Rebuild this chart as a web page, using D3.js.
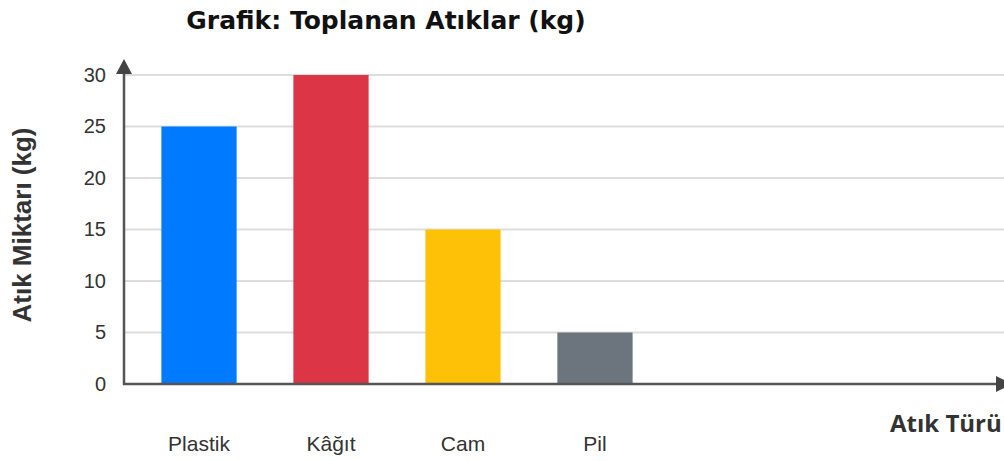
<!DOCTYPE html>
<html>
<head>
<meta charset="utf-8">
<script src="https://cdn.jsdelivr.net/npm/d3@7"></script>
<style>
  html, body { margin: 0; padding: 0; background: #fff; overflow: hidden; }
  svg { display: block; }
</style>
</head>
<body>
<svg id="chart" width="1004" height="461"></svg>
<script>
// ── Data ─────────────────────────────────────────────────────────────
const categories = ['Plastik', 'Kâğıt', 'Cam', 'Pil'];
const values = [25, 30, 15, 5];
const barColors = ['#007bff', '#dc3545', '#ffc107', '#6c757d'];
const yTicks = [0, 5, 10, 15, 20, 25, 30];

// ── Layout ───────────────────────────────────────────────────────────
const svg = d3.select('#chart');
const x0 = 124, yBase = 384, yTop = 75;

const y = d3.scaleLinear().domain([0, 30]).range([yBase, yTop]);
const x = d3.scaleBand()
  .domain(categories)
  .range([135, 659])
  .paddingInner(0.43)
  .paddingOuter(0.2);

// Grid lines
svg.append('g')
  .selectAll('line')
  .data(yTicks.filter(t => t > 0))
  .join('line')
  .attr('x1', x0).attr('x2', 1004)
  .attr('y1', d => y(d)).attr('y2', d => y(d))
  .attr('stroke', '#ddd')
  .attr('stroke-width', 2);

// Y tick labels
const yAxis = svg.append('g')
  .attr('transform', `translate(${x0 - 18},0)`)
  .call(d3.axisLeft(y).tickValues(yTicks).tickSize(0).tickPadding(0));
yAxis.select('.domain').remove();
yAxis.selectAll('text')
  .attr('font-family', 'Liberation Sans, Arial, sans-serif')
  .attr('font-size', 20)
  .attr('fill', '#333');

// Bars
svg.append('g')
  .selectAll('rect')
  .data(values)
  .join('rect')
  .attr('x', (d, i) => x(categories[i]))
  .attr('y', d => y(d))
  .attr('width', x.bandwidth())
  .attr('height', d => yBase - y(d))
  .attr('fill', (d, i) => barColors[i]);

// Category labels
svg.append('g')
  .selectAll('text')
  .data(categories)
  .join('text')
  .attr('x', d => x(d) + x.bandwidth() / 2)
  .attr('y', 451)
  .attr('text-anchor', 'middle')
  .attr('font-family', 'Liberation Sans, Arial, sans-serif')
  .attr('font-size', 21)
  .attr('fill', '#333')
  .text(d => d);

// Axes with arrows
svg.append('line')
  .attr('x1', x0).attr('x2', x0)
  .attr('y1', yBase + 1).attr('y2', 68)
  .attr('stroke', '#555').attr('stroke-width', 2.5);
svg.append('path')
  .attr('d', `M${x0 - 8},74 L${x0},59 L${x0 + 8},74 Z`)
  .attr('fill', '#444');

svg.append('line')
  .attr('x1', x0 - 1).attr('x2', 1000)
  .attr('y1', yBase).attr('y2', yBase)
  .attr('stroke', '#555').attr('stroke-width', 2.5);
svg.append('path')
  .attr('d', `M996,${yBase - 8} L1012,${yBase} L996,${yBase + 8} Z`)
  .attr('fill', '#444');

// Title
svg.append('text')
  .attr('x', 386).attr('y', 29)
  .attr('text-anchor', 'middle')
  .attr('font-family', 'DejaVu Sans, Verdana, sans-serif')
  .attr('font-weight', 'bold')
  .attr('font-size', 25)
  .attr('fill', '#111')
  .text('Grafik: Toplanan Atıklar (kg)');

// Axis titles
svg.append('text')
  .attr('transform', 'translate(31,225) rotate(-90)')
  .attr('text-anchor', 'middle')
  .attr('font-family', 'Liberation Sans, Arial, sans-serif')
  .attr('font-weight', 'bold')
  .attr('font-size', 26)
  .attr('fill', '#333')
  .text('Atık Miktarı (kg)');

svg.append('text')
  .attr('x', 890).attr('y', 432)
  .attr('font-family', 'Open Sans, sans-serif')
  .attr('font-weight', 'bold')
  .attr('font-size', 24)
  .attr('fill', '#333')
  .text('Atık Türü');
</script>
</body>
</html>
